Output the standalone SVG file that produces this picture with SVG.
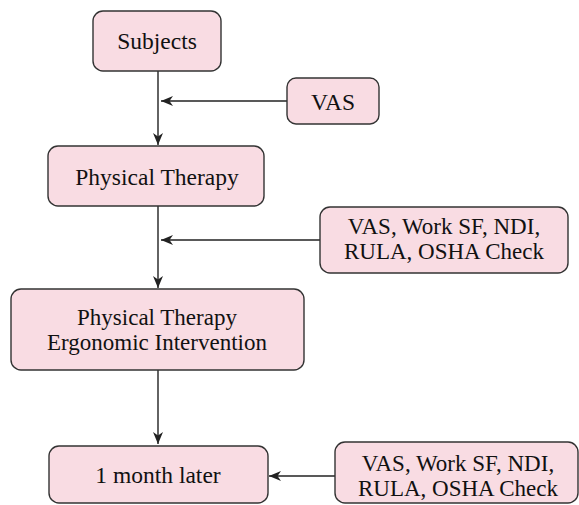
<svg xmlns="http://www.w3.org/2000/svg" width="579" height="505" viewBox="0 0 579 505">
<style>
.box{fill:#f9dce3;stroke:#333;stroke-width:1.4}
.t{font-family:"Liberation Serif","Times New Roman",serif;font-size:23.5px;fill:#111;text-anchor:middle}
.t2{font-family:"Liberation Serif","Times New Roman",serif;font-size:23px;fill:#111;text-anchor:middle}
.c{stroke:#222;stroke-width:1.4;fill:none}
</style>
<defs>
<marker id="ah" markerUnits="userSpaceOnUse" markerWidth="14" markerHeight="12" refX="12" refY="5" orient="auto">
<path d="M0,0 L12,5 L0,10 L3.5,5 Z" fill="#222"/>
</marker>
</defs>
<g id="connectors">
<path class="c" d="M158,71 V145" marker-end="url(#ah)"/>
<path class="c" d="M287,101 H161" marker-end="url(#ah)"/>
<path class="c" d="M158,206 V288" marker-end="url(#ah)"/>
<path class="c" d="M320,240 H161" marker-end="url(#ah)"/>
<path class="c" d="M158,370 V444" marker-end="url(#ah)"/>
<path class="c" d="M335,476 H269" marker-end="url(#ah)"/>
</g>
<g id="subjects">
<rect class="box" x="93" y="11" width="128" height="60" rx="10"/>
<text class="t" x="157" y="49">Subjects</text>
</g>
<g id="vas1">
<rect class="box" x="287" y="78" width="92" height="46" rx="9"/>
<text class="t" x="333" y="110">VAS</text>
</g>
<g id="pt">
<rect class="box" x="48" y="146" width="216" height="60" rx="10"/>
<text class="t" x="157" y="185">Physical Therapy</text>
</g>
<g id="vas2">
<rect class="box" x="320" y="207" width="248" height="66" rx="10"/>
<text class="t2" x="444" y="234">VAS, Work SF, NDI,</text>
<text class="t2" x="444" y="259">RULA, OSHA Check</text>
</g>
<g id="ptei">
<rect class="box" x="11" y="289" width="293" height="81" rx="10"/>
<text class="t2" x="157" y="325">Physical Therapy</text>
<text class="t2" x="157" y="350">Ergonomic Intervention</text>
</g>
<g id="later">
<rect class="box" x="49" y="446" width="219" height="57" rx="10"/>
<text class="t" x="158" y="483">1 month later</text>
</g>
<g id="vas3">
<rect class="box" x="335" y="442" width="243" height="61" rx="10"/>
<text class="t2" x="458" y="471">VAS, Work SF, NDI,</text>
<text class="t2" x="458" y="496">RULA, OSHA Check</text>
</g>
</svg>
